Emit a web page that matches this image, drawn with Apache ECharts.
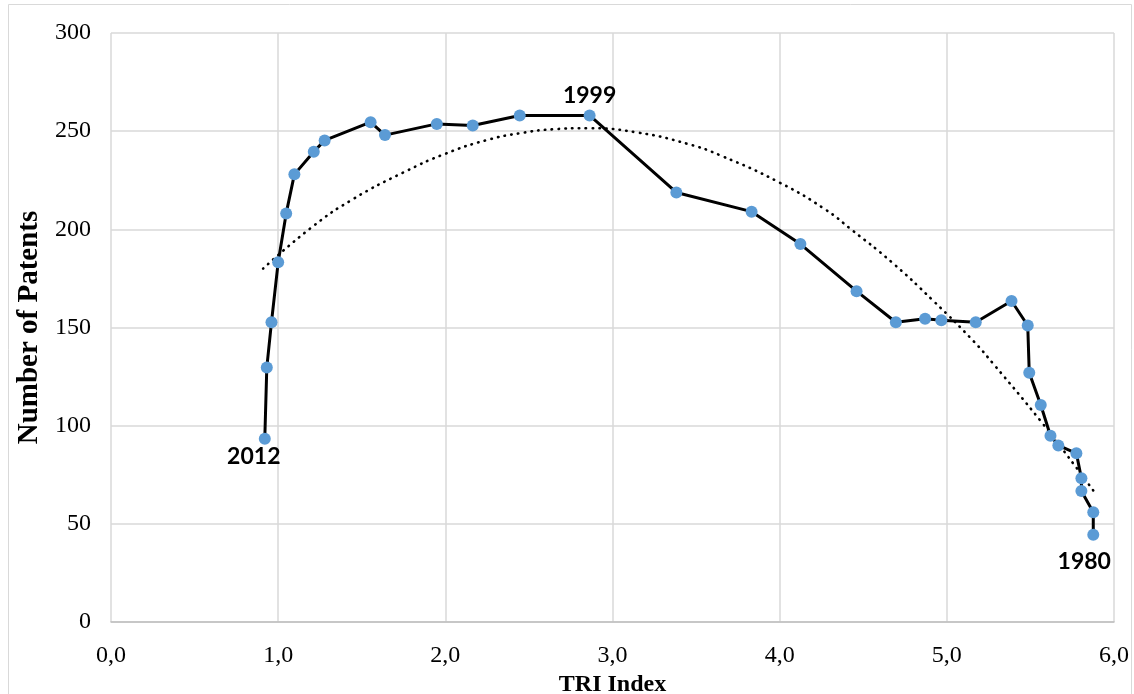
<!DOCTYPE html>
<html>
<head>
<meta charset="utf-8">
<script src="https://cdn.jsdelivr.net/npm/echarts@6/dist/echarts.min.js"></script>
<style>
html,body{margin:0;padding:0;background:#fff;}
#chart{width:1134px;height:694px;}
</style>
</head>
<body>
<div id="chart"></div>
<script>
// Data (2012 -> 1980)
const years = [2012,2011,2010,2009,2008,2007,2006,2005,2004,2003,2002,2001,2000,1999,
  1998,1997,1996,1995,1994,1993,1992,1991,1990,1989,1988,1987,1986,1985,1984,1983,1982,1981,1980];
const triIndex = [0.920,0.932,0.960,1.000,1.048,1.097,1.213,1.278,1.553,1.639,1.949,2.164,2.445,2.863,
  3.382,3.832,4.124,4.460,4.695,4.870,4.967,5.173,5.387,5.484,5.493,5.562,5.620,5.667,5.775,5.805,5.805,5.876,5.876];
const patents = [93.3,129.6,152.7,183.2,208.1,228,239.5,245.3,254.6,248,253.7,252.9,258,258,
  218.8,209,192.5,168.5,152.7,154.4,153.7,152.7,163.5,151,127,110.5,94.9,89.9,85.9,73.2,66.7,55.9,44.4];
const labeledYears = ['2012','1999','1980'];

// Dotted trendline
const trendX = [0.91,1.2,1.45,1.75,2.0,2.25,2.45,2.65,2.85,3.15,3.45,3.65,4.0,4.27,4.43,4.67,4.92,5.16,5.28,5.56,5.76,5.88];
const trendY = [180,201,215.5,229,238.5,245.5,249,251,251.5,249.3,243.5,237.5,223.8,210.3,199.8,183.3,163.5,143,131.3,102.5,80.3,66.5];

const xTicks = {min:0, max:6, interval:1};
const yTicks = {min:0, max:300, interval:50};

const labelOffsets = {'2012':[-11,18], '1999':[0,-20], '1980':[-9,27]};

const mainData = triIndex.map((x,i)=>{
  const yr = String(years[i]);
  const item = {value:[x, patents[i]]};
  if (labeledYears.includes(yr)) {
    item.label = {show:true, formatter:yr, position:'inside', offset:labelOffsets[yr]};
  }
  return item;
});
const trendData = trendX.map((x,i)=>[x, trendY[i]]);

const chart = echarts.init(document.getElementById('chart'), null, {renderer:'canvas'});
chart.setOption({
  animation:false,
  backgroundColor:'#ffffff',
  graphic:[{type:'rect', shape:{x:8.5,y:4.5,width:1123,height:700}, style:{fill:'none', stroke:'#d9d9d9', lineWidth:1}, silent:true, z:-1}],
  grid:{left:111, right:20, top:33, bottom:72, containLabel:false, outerBoundsMode:'none'},
  xAxis:{
    type:'value', min:xTicks.min, max:xTicks.max, interval:xTicks.interval,
    name:'TRI Index', nameLocation:'middle', nameGap:46,
    nameTextStyle:{fontFamily:'Liberation Serif', fontWeight:'bold', fontSize:24, color:'#000'},
    axisLine:{show:true, lineStyle:{color:'#bfbfbf', width:1.5}},
    axisTick:{show:false},
    splitLine:{show:true, lineStyle:{color:'#d9d9d9', width:1.5}},
    axisLabel:{fontFamily:'Liberation Serif', fontSize:24, color:'#000', margin:22,
      formatter:v=>v.toFixed(1).replace('.',',')}
  },
  yAxis:{
    type:'value', min:yTicks.min, max:yTicks.max, interval:yTicks.interval,
    name:'Number of Patents', nameLocation:'middle', nameGap:66, nameRotate:90,
    nameTextStyle:{fontFamily:'Liberation Serif', fontWeight:'bold', fontSize:29, color:'#000'},
    axisLine:{show:false}, axisTick:{show:false},
    splitLine:{show:true, lineStyle:{color:'#d9d9d9', width:1.5}},
    axisLabel:{fontFamily:'Liberation Serif', fontSize:24, color:'#000', margin:20, padding:[4,0,0,0]}
  },
  series:[
    {
      type:'line', data:trendData, smooth:0.5, showSymbol:false, symbol:'none',
      lineStyle:{color:'#000', width:2.6, type:[0.5,6.3], cap:'round'}, z:1, silent:true
    },
    {
      type:'line', data:mainData, symbol:'circle', symbolSize:12,
      itemStyle:{color:'#5b9bd5', borderWidth:0},
      lineStyle:{color:'#000', width:3},
      label:{show:false, fontFamily:'Lato', fontWeight:'bold', fontSize:23, color:'#000'},
      z:2
    }
  ]
});
</script>
</body>
</html>
